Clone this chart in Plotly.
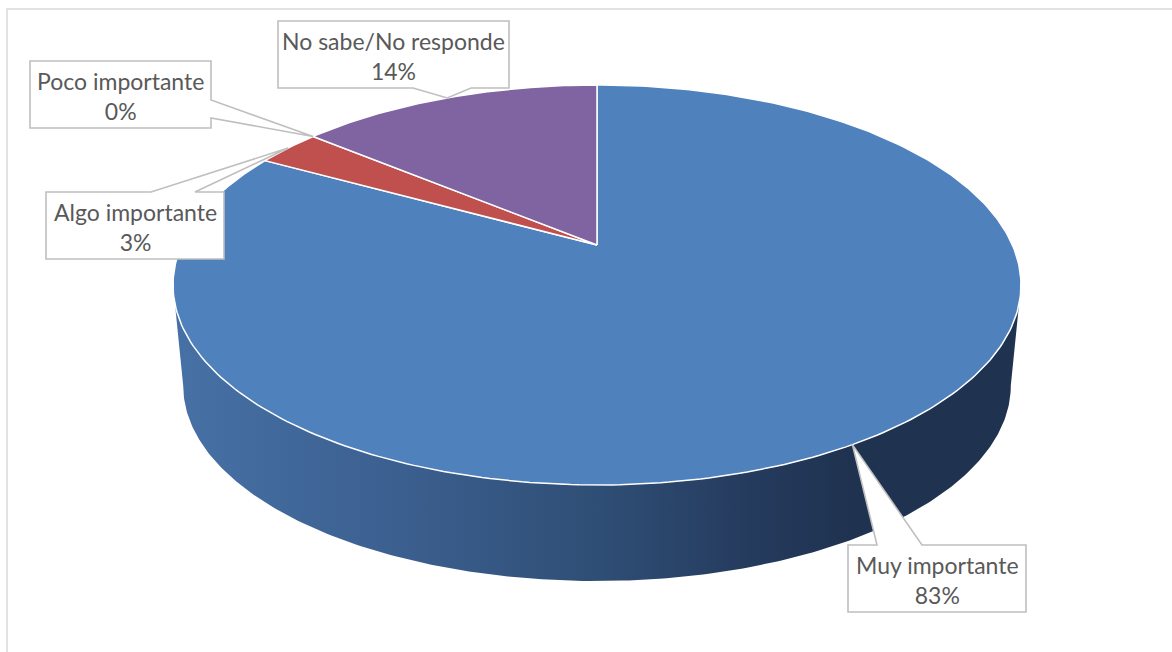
import numpy as np
import plotly.graph_objects as go

# Survey answers, clockwise from 12 o'clock
categories = ["Muy importante", "Algo importante", "Poco importante", "No sabe/No responde"]
shares = [83, 3, 0, 14]  # percent
slice_colors = ["#4F81BD", "#C0504D", "#9BBB59", "#8064A2"]

# Label callout boxes (x0, y0, x1, y1) in page pixels, and the edge + span of the pointer base
label_boxes = [
    (848, 545, 1026, 612),
    (46, 192, 224, 259),
    (30, 61, 211, 128),
    (278, 21, 509, 88),
]
pointer_bases = [
    ("top", 877, 922),
    ("top", 151, 195),
    ("right", 100, 118),
    ("bottom", 413, 471),
]

W, H = 1172, 652

# Tilted-disc projection: the top face is a perspective view of a circle.
CX, VY = 597.0, 245.0     # projected centre of the disc
A, B, K = 415.4, 192.0, 0.2
ELL_CY = 285.0            # centre of the projected outline ellipse
DEPTH = 100.8             # drop of the bottom rim
SHRINK = 0.976            # bottom rim is slightly further from the viewer


def top_point(phi):
    u, v = np.sin(phi), np.cos(phi)
    den = 1.0 + K * v
    return CX + A * u / den, VY - B * v / den


def bottom_point(phi):
    x, y = top_point(phi)
    return CX + SHRINK * (x - CX), ELL_CY + SHRINK * (y - ELL_CY) + DEPTH


fig = go.Figure()

# Side wall (front half of the cylinder), shaded left-to-right
phi_side = np.arccos(-K)
front = np.linspace(phi_side, 2 * np.pi - phi_side, 240)
tx, ty = top_point(front)
bx, by = bottom_point(front[::-1])
wall_x = np.concatenate([tx, bx, tx[:1]])
wall_y = np.concatenate([ty, by, ty[:1]])
x_left, x_right = wall_x.min(), wall_x.max()


def frac(px):
    return float((px - x_left) / (x_right - x_left))


fig.add_trace(go.Scatter(
    x=wall_x, y=wall_y, mode="lines", fill="toself",
    line=dict(width=0, color="rgba(0,0,0,0)"),
    fillgradient=dict(
        type="horizontal", start=x_left, stop=x_right,
        colorscale=[
            [0.0, "#4771A6"],
            [frac(400), "#3B5F8F"],
            [frac(600), "#2F4E75"],
            [frac(750), "#253B5E"],
            [frac(850), "#1F3350"],
            [1.0, "#1F3350"],
        ],
    ),
    hoverinfo="skip", showlegend=False,
))

# Top face slices
total = float(sum(shares))
bounds = np.concatenate([[0.0], np.cumsum(shares)]) / total * 2 * np.pi
mid_angles = []
for i, (cat, val) in enumerate(zip(categories, shares)):
    a0, a1 = bounds[i], bounds[i + 1]
    mid_angles.append((a0 + a1) / 2)
    if val <= 0:
        continue
    n = max(int(400 * (a1 - a0) / (2 * np.pi)), 8)
    arc = np.linspace(a0, a1, n)
    ax_, ay_ = top_point(arc)
    xs = np.concatenate([[CX], ax_, [CX]])
    ys = np.concatenate([[VY], ay_, [VY]])
    fig.add_trace(go.Scatter(
        x=xs, y=ys, mode="lines", fill="toself",
        fillcolor=slice_colors[i],
        line=dict(color="white", width=1.5),
        hoverinfo="text", text=f"{cat}: {val}%", showlegend=False,
    ))


def callout_path(box, base, tip):
    x0, y0, x1, y1 = box
    edge, b0, b1 = base
    tx_, ty_ = tip
    pts = [(x0, y0)]
    if edge == "top":
        pts += [(b0, y0), (tx_, ty_), (b1, y0)]
    pts.append((x1, y0))
    if edge == "right":
        pts += [(x1, b0), (tx_, ty_), (x1, b1)]
    pts.append((x1, y1))
    if edge == "bottom":
        pts += [(b1, y1), (tx_, ty_), (b0, y1)]
    pts.append((x0, y1))
    return "M " + " L ".join(f"{px:.1f},{py:.1f}" for px, py in pts) + " Z"


shapes = [
    # chart area frame
    dict(type="rect", xref="x", yref="y", x0=7, y0=9, x1=W + 20, y1=H + 20,
         line=dict(color="#D9D9D9", width=1.5), fillcolor="rgba(0,0,0,0)", layer="below"),
]
annotations = []
for i, (cat, val) in enumerate(zip(categories, shares)):
    tip = top_point(mid_angles[i])
    box = label_boxes[i]
    shapes.append(dict(
        type="path", xref="x", yref="y",
        path=callout_path(box, pointer_bases[i], tip),
        fillcolor="white", line=dict(color="#BFBFBF", width=1.6), layer="above",
    ))
    annotations.append(dict(
        x=(box[0] + box[2]) / 2, y=(box[1] + box[3]) / 2 + 1,
        xref="x", yref="y", showarrow=False,
        text=f"{cat}<br>{val}%", align="center",
        font=dict(family="Lato, 'Open Sans', sans-serif", size=23, color="#595959"),
    ))

fig.update_layout(
    width=W, height=H,
    margin=dict(l=0, r=0, t=0, b=0),
    paper_bgcolor="white", plot_bgcolor="white",
    showlegend=False,
    xaxis=dict(range=[0, W], visible=False, fixedrange=True),
    yaxis=dict(range=[H, 0], visible=False, fixedrange=True),
    shapes=shapes, annotations=annotations,
)

fig.write_html("out.html")
